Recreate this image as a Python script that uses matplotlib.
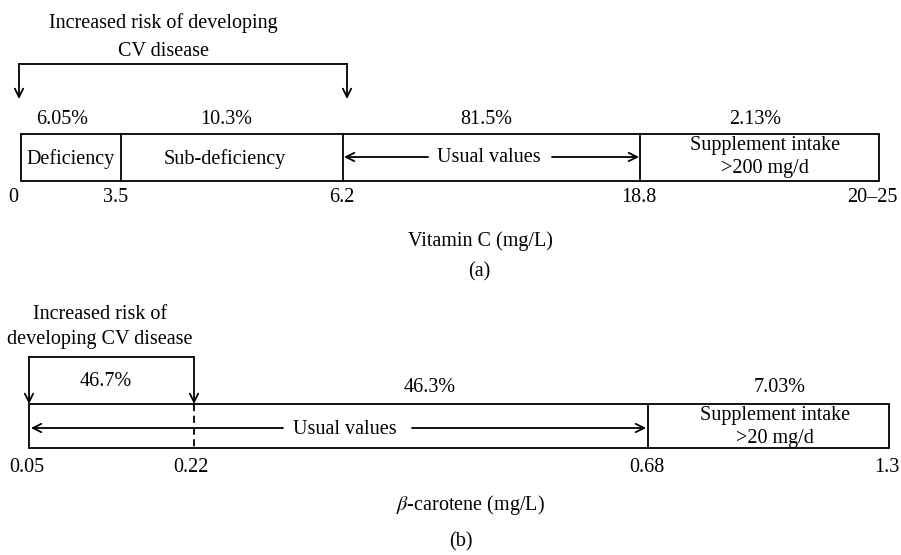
import matplotlib.pyplot as plt
from matplotlib.patches import Rectangle

# --- data ---
vitc_ticks = ['0', '3.5', '6.2', '18.8', '20–25']
vitc_pct = ['6.05%', '10.3%', '81.5%', '2.13%']
vitc_zones = ['Deficiency', 'Sub-deficiency', 'Usual values', 'Supplement intake\n>200 mg/d']

bcar_ticks = ['0.05', '0.22', '0.68', '1.3']
bcar_pct = ['46.7%', '46.3%', '7.03%']
bcar_zones = ['Usual values', 'Supplement intake\n>20 mg/d']

risk_a = 'Increased risk of developing\nCV disease'
risk_b = 'Increased risk of\ndeveloping CV disease'

# --- layout (pixel coords of the schematic, not to scale) ---
a_edges = [21, 121, 343, 640, 879]
a_top, a_bot = 134, 181
a_tick_x = [13, 116, 342, 639, 876]
a_pct_x = [62, 226, 486, 755]

b_edges = [29, 194, 648, 889]
b_top, b_bot = 404, 448
b_tick_x = [27, 191, 647, 887]
b_pct_x = [106, 430, 780]

FS = 14.5
plt.rcParams['font.family'] = ['Liberation Serif', 'DejaVu Serif']
plt.rcParams['mathtext.fontset'] = 'stix'

fig = plt.figure(figsize=(9.01, 5.55), dpi=100)
ax = fig.add_axes([0, 0, 1, 1])
ax.set_xlim(0, 901)
ax.set_ylim(555, 0)
ax.axis('off')

lw = 1.3
arr = dict(arrowstyle='->', lw=lw, color='black', shrinkA=0, shrinkB=0, mutation_scale=15)

def txt(x, y, s, ls=1.25, ha='center'):
    ax.text(x, y, s, ha=ha, va='center', fontsize=FS, linespacing=ls)

# ---------- panel (a) ----------
ax.add_patch(Rectangle((a_edges[0], a_top), a_edges[-1] - a_edges[0], a_bot - a_top,
                       fill=False, lw=lw, ec='black'))
for x in a_edges[1:-1]:
    ax.plot([x, x], [a_top, a_bot], color='black', lw=lw)

for x, s in zip(a_tick_x[:-1], vitc_ticks[:-1]):
    txt(x, 198, s)
txt(898, 198, vitc_ticks[-1], ha='right')
for x, s in zip(a_pct_x, vitc_pct):
    txt(x, 119, s)

txt(71, 159, vitc_zones[0])
txt(225, 159, vitc_zones[1])
txt(489, 158, vitc_zones[2])
ax.annotate('', xy=(344, 157), xytext=(428, 157), arrowprops=arr)
ax.annotate('', xy=(639, 157), xytext=(552, 157), arrowprops=arr)
txt(765, 157, vitc_zones[3])

# risk bracket
txt(163, 37, risk_a, ls=1.7)
ax.plot([19, 347], [64, 64], color='black', lw=lw)
ax.annotate('', xy=(19, 99), xytext=(19, 64), arrowprops=arr)
ax.annotate('', xy=(347, 99), xytext=(347, 64), arrowprops=arr)

txt(480, 241, 'Vitamin C (mg/L)')
txt(479, 272, '(a)')

# ---------- panel (b) ----------
ax.add_patch(Rectangle((b_edges[0], b_top), b_edges[-1] - b_edges[0], b_bot - b_top,
                       fill=False, lw=lw, ec='black'))
ax.plot([b_edges[1], b_edges[1]], [b_top, b_bot], color='black', lw=lw, ls=(0, (4, 2.5)))
ax.plot([b_edges[2], b_edges[2]], [b_top, b_bot], color='black', lw=lw)

for x, s in zip(b_tick_x[:-1], bcar_ticks[:-1]):
    txt(x, 467, s)
txt(899, 467, bcar_ticks[-1], ha='right')
txt(b_pct_x[0], 382, bcar_pct[0])
for x, s in zip(b_pct_x[1:], bcar_pct[1:]):
    txt(x, 388, s)

txt(345, 430, bcar_zones[0])
ax.annotate('', xy=(31, 428), xytext=(283, 428), arrowprops=arr)
ax.annotate('', xy=(646, 428), xytext=(412, 428), arrowprops=arr)
txt(775, 427, bcar_zones[1])

txt(100, 327, risk_b, ls=1.45)
ax.plot([29, 194], [357, 357], color='black', lw=lw)
ax.annotate('', xy=(29, 404), xytext=(29, 357), arrowprops=arr)
ax.annotate('', xy=(194, 404), xytext=(194, 357), arrowprops=arr)

ax.text(470, 505, r'$\mathit{\beta}$-carotene (mg/L)', ha='center', va='center', fontsize=FS)
txt(461, 542, '(b)')

fig.savefig('out.png', dpi=100)
